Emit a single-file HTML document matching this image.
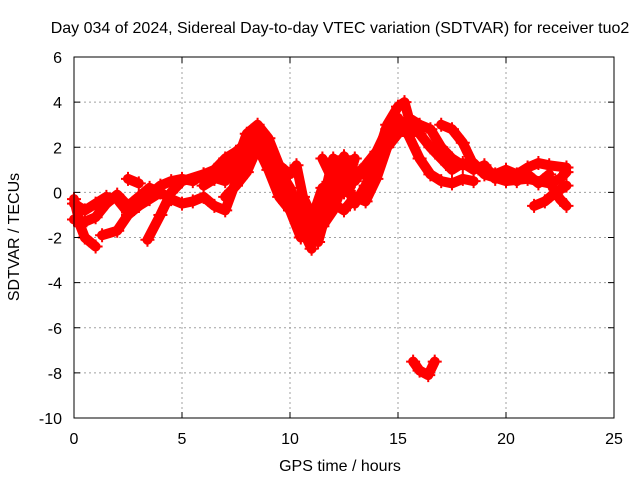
<!DOCTYPE html>
<html><head><meta charset="utf-8"><style>
body{margin:0;background:#fff}
svg text{font-family:"Liberation Sans",sans-serif;font-size:16px;fill:#000}
</style></head><body>
<svg width="640" height="480">
<rect width="640" height="480" fill="#fff"/>
<g id="grid"></g>
<g id="marks"></g>
<rect x="74" y="57" width="540" height="361" fill="none" stroke="#000" stroke-width="1"/>
<g id="ticks"></g>
<text x="340" y="33" text-anchor="middle">Day 034 of 2024, Sidereal Day-to-day VTEC variation (SDTVAR) for receiver tuo2</text>
<text x="340" y="471" text-anchor="middle">GPS time / hours</text>
<text transform="translate(19,237) rotate(-90)" text-anchor="middle">SDTVAR / TECUs</text>
</svg>
<script>
const xTicks=[0,5,10,15,20,25];
const yTicks=[6,4,2,0,-2,-4,-6,-8,-10];
const arcA=[[0,-0.3],[0.3,-1.5],[0.5,-2],[1.0,-2.4]];
const arcB=[[0,-0.5],[0.5,-0.8],[1,-0.5],[1.5,-0.2],[2,-0.3],[2.5,-0.9],[3,-0.6],[3.5,-0.1],[4,0.3],[4.5,0.5],[5,0.6],[5.5,0.5],[6,0.8],[6.5,1.0],[7,1.5],[7.5,1.8],[8,2.2],[8.5,2.8],[9,1.8],[9.5,0.5],[10,-0.5],[10.5,-1.5],[11,-2.5]];
const arcC=[[0,-1.2],[0.5,-1.3],[1,-1.1],[1.5,-0.5],[2,-0.1],[2.5,-0.6],[3,-0.2],[3.5,0.2],[4,0.0],[4.5,-0.3],[5,-0.5],[5.5,-0.4],[6,-0.2],[6.5,-0.6],[7,-0.8],[7.5,0.5],[8,1.5]];
const arcD=[[1.3,-1.9],[2,-1.7],[2.5,-1.0],[3,-0.6],[3.5,-0.3],[4,0.0]];
const arcE=[[3.4,-2.1],[4,-1.0],[4.5,0],[5,0.5],[6,0.8],[7,0.5],[7.5,1],[8,1.8],[8.5,2.5],[9,1.6],[9.5,1.0],[10,0.2],[10.5,-1],[11,-1.8],[11.5,-1.5],[12,-0.8],[12.5,0.5],[13,-0.5],[13.5,0.3],[14,1.5],[14.5,3],[15,3.8],[15.3,4],[15.5,3.3],[16,3],[16.5,2.8],[17,2],[17.5,1.5],[18,1.2],[18.5,1.3],[19,0.8],[20,0.5],[21,0.6],[22,0.4],[22.5,0.6],[22.8,0.9]];
const arcF=[[14.5,2.5],[15,3.3],[15.5,2.5],[16,1.5],[16.5,0.8],[17,0.5],[17.5,0.4],[18,0.6],[18.5,0.5]];
const arcG=[[17,3],[17.5,2.8],[18,2.2],[18.5,1.2],[19,1.0],[19.5,0.8],[20,1.0],[20.5,0.8],[21,1.1],[21.5,1.3],[22,1.2],[22.8,1.1]];
const arcH=[[21.3,-0.6],[21.8,-0.4],[22.3,0],[22.8,0.3]];
const arcI=[[22,0.5],[22.5,-0.3],[22.8,-0.6]];
const arcJ=[[15.7,-7.5],[16,-7.9],[16.4,-8.1],[16.7,-7.5]];
const arcK=[[11.5,1.5],[12,0.5],[12.5,1.6],[13,0.5],[13.5,1.2],[14,1.8],[14.5,2.8]];
const arcL=[[2.5,0.6],[3,0.4]];
const arcM=[[10,0],[10.5,-1],[11,-1.5],[11.5,-0.5],[12,1.5],[12.5,0.0],[13,1.5]];
const arcN=[[6,0.3],[6.5,0.6],[7,1.0],[7.5,1.3],[8,2.6],[8.5,3.0],[9,2.4],[9.5,1.2],[10,0.8],[10.3,1.2],[10.6,-0.2],[11,-1.0],[11.3,-2.2],[11.7,-0.8],[12,0.2],[12.3,1.0],[12.7,0.0],[13,0.8],[13.3,1.0],[13.7,0.5],[14,1.0],[14.3,2.2]];
const arcO=[[7,-0.2],[7.5,0.3],[8,0.9],[8.5,2.0],[9,1.0],[9.5,-0.2],[10,-0.8],[10.5,-2.0],[11,-1.2],[11.5,0.2],[12,-0.5],[12.5,-0.8],[13,-0.2],[13.5,-0.4],[14,0.6],[14.5,2.0],[15,2.6]];
const arcP=[[15.5,3.0],[16,2.6],[16.5,2.0],[17,1.5],[17.5,1.0],[18,1.3],[18.5,1.0],[19,1.2],[19.5,0.6],[20,0.9],[20.5,0.5],[21,0.8],[21.5,0.4],[22,0.8]];
const series=[arcA,arcB,arcC,arcD,arcE,arcF,arcG,arcH,arcI,arcJ,arcK,arcL,arcM,arcN,arcO,arcP];
const X=v=>74+v*540/25, Y=v=>57+(6-v)*361/16;
const NS='http://www.w3.org/2000/svg';
const grid=document.getElementById('grid'),ticks=document.getElementById('ticks'),marks=document.getElementById('marks');
function mk(tag,attrs,parent){const e=document.createElementNS(NS,tag);for(const k in attrs)e.setAttribute(k,attrs[k]);parent.appendChild(e);return e;}
xTicks.forEach(t=>{const x=X(t);
 if(t>0&&t<25){const g=mk('line',{x1:x,x2:x,y1:57,y2:418,stroke:'#a0a0a0','stroke-dasharray':'2,3'},grid);}
 mk('line',{x1:x,x2:x,y1:418,y2:412,stroke:'#000'},ticks);mk('line',{x1:x,x2:x,y1:57,y2:63,stroke:'#000'},ticks);
 const l=mk('text',{x:x,y:444,'text-anchor':'middle'},ticks);l.textContent=t;
 });
yTicks.forEach(t=>{const y=Y(t);
 if(t<6&&t>-10){const g=mk('line',{x1:74,x2:614,y1:y,y2:y,stroke:'#a0a0a0','stroke-dasharray':'2,3'},grid);}
 mk('line',{x1:74,x2:80,y1:y,y2:y,stroke:'#000'},ticks);mk('line',{x1:614,x2:608,y1:y,y2:y,stroke:'#000'},ticks);
 const l=mk('text',{x:62,y:y+6,'text-anchor':'end'},ticks);l.textContent=t;
 });
series.forEach((s,i)=>{
 const p=mk('polyline',{points:s.map(d=>X(d[0])+','+Y(d[1])).join(' '),fill:'none',stroke:'#f00','stroke-width':10,'stroke-linejoin':'round','stroke-linecap':'round'},marks);
 
 
 s.forEach(d=>{const x=X(d[0]),y=Y(d[1]);
  const m=mk('path',{d:`M${x-7},${y}h14M${x},${y-7}v14`,stroke:'#f00','stroke-width':2},marks);
  
  });
});
</script>
</body></html>
